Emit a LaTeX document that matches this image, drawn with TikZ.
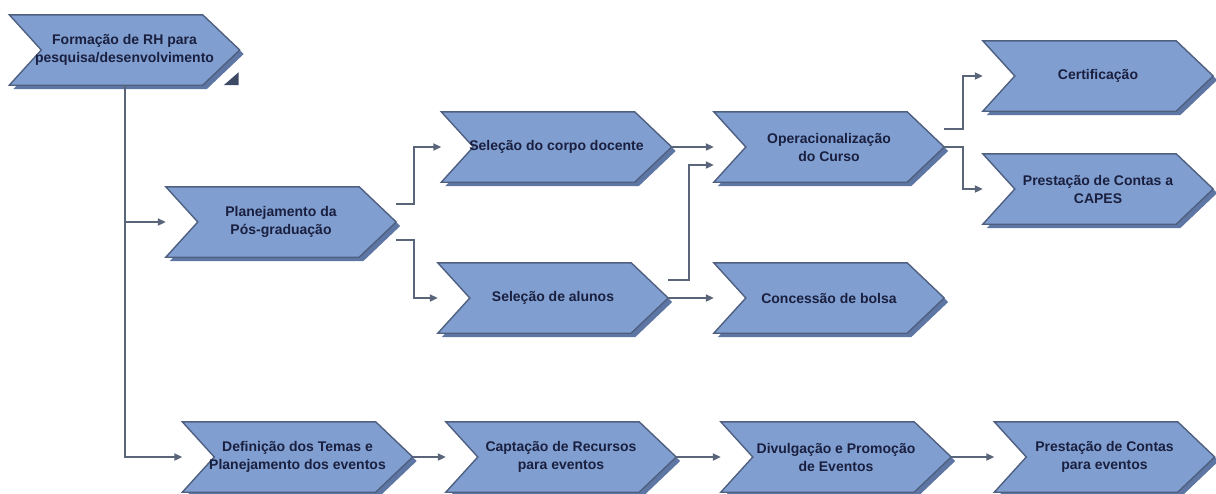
\documentclass[tikz,border=0pt]{standalone}
\usepackage{fontspec}
\setmainfont{Liberation Sans}
\usetikzlibrary{arrows.meta,backgrounds}
\definecolor{boxfill}{HTML}{809FD0}
\definecolor{boxedge}{HTML}{4F5F80}
\definecolor{boxshadow}{HTML}{5E76A3}
\definecolor{linec}{HTML}{5B6579}
\definecolor{textc}{HTML}{1A1F3F}
\definecolor{markc}{HTML}{3D4A66}
\tikzset{
  chev/.style={rectangle, minimum width=230pt, minimum height=70pt, inner sep=0pt,
    align=center, text=textc, font=\fontsize{14}{18}\selectfont\bfseries},
  chbody/.style={fill=boxfill, draw=boxedge, line width=1.4pt, line join=miter},
  chshadow/.style={fill=boxshadow},
  conn/.style={draw=linec, line width=2pt, -{Triangle[length=8pt,width=7pt]}},
}
\newcommand\drawchev[1]{%
  \fill[chshadow] ([shift={(4pt,-4pt)}]#1.north west) -- ([shift={(-33pt,-4pt)}]#1.north east)
    -- ([shift={(4pt,-4pt)}]#1.east) -- ([shift={(-33pt,-4pt)}]#1.south east)
    -- ([shift={(4pt,-4pt)}]#1.south west) -- ([shift={(36pt,-4pt)}]#1.west) -- cycle;
  \filldraw[chbody] (#1.north west) -- ([xshift=-37pt]#1.north east) -- (#1.east)
    -- ([xshift=-37pt]#1.south east) -- (#1.south west) -- ([xshift=32pt]#1.west) -- cycle;}
\begin{document}
\begin{tikzpicture}[x=1pt,y=-1pt]
\useasboundingbox (0,0) rectangle (1216,493);
\node[chev] (rh) at (124.5,50) {Formação de RH para\\pesquisa/desenvolvimento};
\node[chev] (plan) at (281,222) {Planejamento da\\Pós-graduação};
\node[chev] (doc) at (556.5,147) {Seleção do corpo docente};
\node[chev] (alu) at (553,298) {Seleção de alunos};
\node[chev] (op) at (829,147) {Operacionalização\\do Curso};
\node[chev] (conc) at (829,298) {Concessão de bolsa};
\node[chev] (cert) at (1098,76) {Certificação};
\node[chev] (capes) at (1098,189) {Prestação de Contas a\\CAPES};
\node[chev] (def) at (297.5,457) {Definição dos Temas e\\Planejamento dos eventos};
\node[chev] (capt) at (561,457) {Captação de Recursos\\para eventos};
\node[chev] (div) at (836,457) {Divulgação e Promoção\\de Eventos};
\node[chev, minimum width=220pt] (prest) at (1104.5,457) {Prestação de Contas\\para eventos};
\begin{scope}[on background layer]
\foreach \n in {rh,plan,doc,alu,op,conc,cert,capes,def,capt,div,prest}{\drawchev{\n}}
\end{scope}
\coordinate (mk) at ([shift={(-1pt,0pt)}]rh.south east);
\fill[markc] (mk) -- ++(-15,0) -- ++(15,-13) -- cycle;
\draw[conn] (rh.south) |- (plan.west);
\draw[conn] (rh.south) |- (def.west);
\draw[conn] ([yshift=18pt]plan.east) -- ++(18,0) |- (doc.west);
\draw[conn] ([yshift=-18pt]plan.east) -- ++(18,0) |- (alu.west);
\draw[conn] (doc.east) -- (op.west);
\draw[conn] ([yshift=18pt]alu.east) -- ++(21,0) |- ([yshift=-18pt]op.west);
\draw[conn] (alu.east) -- (conc.west);
\draw[conn] ([yshift=18pt]op.east) -- ++(19,0) |- (cert.west);
\draw[conn] (op.east) -- ++(19,0) |- (capes.west);
\draw[conn] (def.east) -- (capt.west);
\draw[conn] (capt.east) -- (div.west);
\draw[conn] (div.east) -- (prest.west);
\end{tikzpicture}
\end{document}
